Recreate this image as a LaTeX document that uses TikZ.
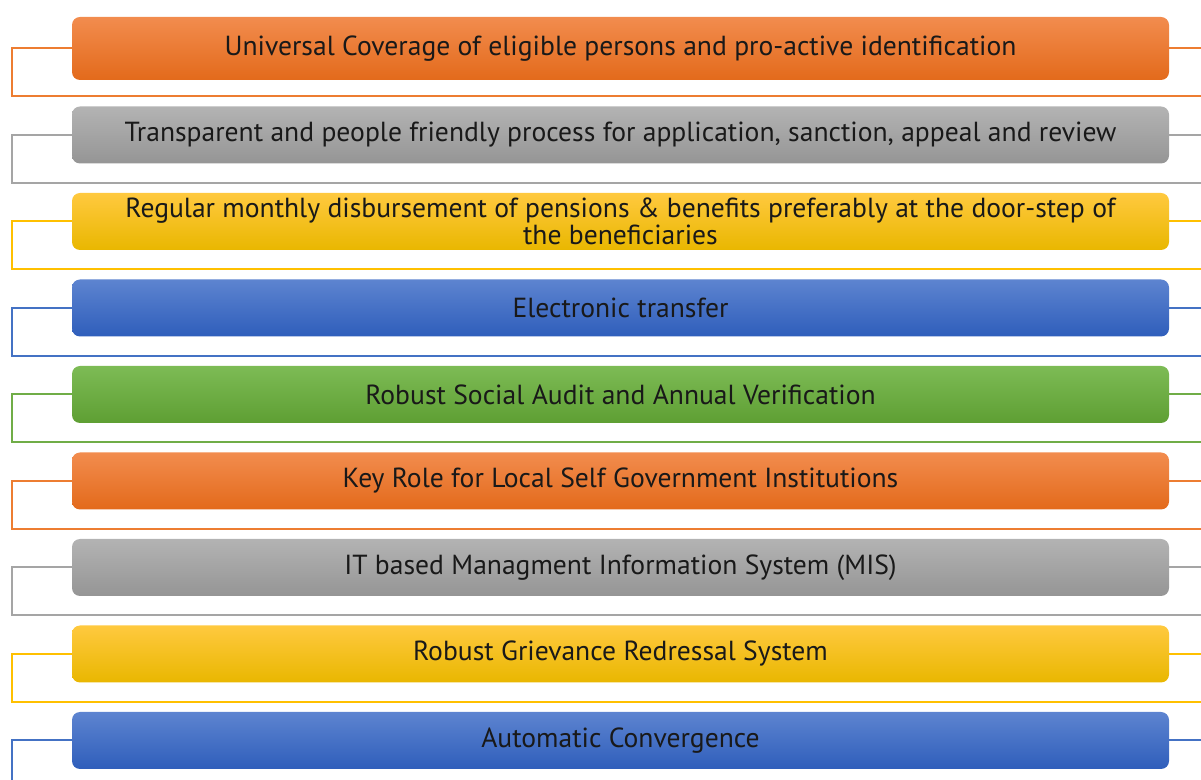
\documentclass[tikz,border=0pt]{standalone}
\usepackage{fontspec}
\setmainfont{PT Sans}
\usetikzlibrary{positioning}
\definecolor{orangetop}{HTML}{F28C4E}
\definecolor{orangebot}{HTML}{E36A1B}
\definecolor{graytop}{HTML}{B3B3B3}
\definecolor{graybot}{HTML}{959595}
\definecolor{yellowtop}{HTML}{FFC93F}
\definecolor{yellowbot}{HTML}{E9B700}
\definecolor{bluetop}{HTML}{5D84D0}
\definecolor{bluebot}{HTML}{2F5EBB}
\definecolor{greentop}{HTML}{7DBB55}
\definecolor{greenbot}{HTML}{5E9F33}
\definecolor{lorange}{HTML}{ED7D31}
\definecolor{lgray}{HTML}{A5A5A5}
\definecolor{lyellow}{HTML}{FFC000}
\definecolor{lblue}{HTML}{4472C4}
\definecolor{lgreen}{HTML}{70AD47}
\tikzstyle{bar} = [rectangle, rounded corners=4pt, minimum width=548.5pt, minimum height=28.5pt, text width=540pt, align=flush center, inner sep=0pt, text=black!90, font=\fontsize{13.8}{13.6}\selectfont]
\tikzstyle{orangebar} = [bar, top color=orangetop, bottom color=orangebot]
\tikzstyle{graybar} = [bar, top color=graytop, bottom color=graybot]
\tikzstyle{yellowbar} = [bar, top color=yellowtop, bottom color=yellowbot]
\tikzstyle{bluebar} = [bar, top color=bluetop, bottom color=bluebot]
\tikzstyle{greenbar} = [bar, top color=greentop, bottom color=greenbot]
\tikzstyle{link} = [line width=1pt]

\begin{document}
\begin{tikzpicture}[node distance=43.25pt]
\useasboundingbox (0,0) rectangle (600.5pt,-390pt);
\coordinate (lx) at (6pt,0);
\coordinate (rx) at (600.5pt,0);

\node (coverage) [orangebar, minimum height=31.5pt] at (310.25pt,-24.25pt) {Universal Coverage of eligible persons and pro-active identification};
\node (process) [graybar, below of=coverage] {Transparent and people friendly process for application, sanction, appeal and review};
\node (disburse) [yellowbar, below of=process] {Regular monthly disbursement of pensions \& benefits preferably at the door-step of\\ the beneficiaries};
\node (transfer) [bluebar, below of=disburse] {Electronic transfer};
\node (audit) [greenbar, below of=transfer] {Robust Social Audit and Annual Verification};
\node (localgov) [orangebar, below of=audit] {Key Role for Local Self Government Institutions};
\node (mis) [graybar, below of=localgov] {IT based Managment Information System (MIS)};
\node (grievance) [yellowbar, below of=mis] {Robust Grievance Redressal System};
\node (convergence) [bluebar, below of=grievance] {Automatic Convergence};

% bracket lines
\foreach \n/\c in {coverage/lorange, process/lgray, disburse/lyellow, transfer/lblue, audit/lgreen, localgov/lorange, mis/lgray, grievance/lyellow, convergence/lblue}
{
  \draw [link, draw=\c] (\n.west) -- (lx |- \n.west) -- ++(0,-24pt) -- ++(594.5pt,0);
  \draw [link, draw=\c] (\n.east) -- (rx |- \n.east);
}
\end{tikzpicture}
\end{document}
